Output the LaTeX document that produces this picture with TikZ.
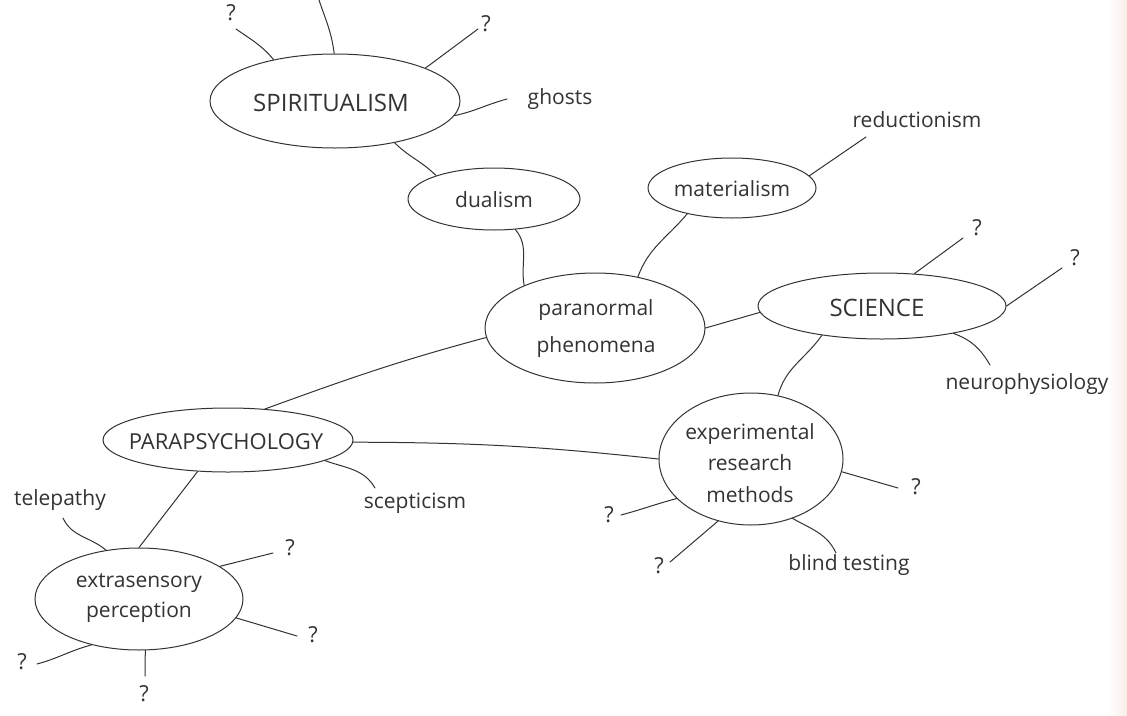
\documentclass[tikz,border=0pt]{standalone}
\usepackage{fontspec}
\setmainfont{Open Sans}
\usetikzlibrary{shapes.geometric}
\definecolor{ink}{HTML}{333333}
\definecolor{pagetint}{HTML}{F8EEE7}
\begin{document}
\begin{tikzpicture}[x=1pt,y=-1pt,
  blob/.style={draw=ink, ellipse, line width=1pt, inner sep=0pt},
  word/.style={text=ink, font=\fontsize{21}{31}\selectfont, inner sep=0pt, align=center},
  caps/.style={text=ink, font=\fontsize{23}{31}\selectfont, inner sep=0pt},
  qm/.style={text=ink, font=\fontsize{22}{28}\selectfont, inner sep=0pt},
  link/.style={draw=ink, line width=1pt, line cap=round}]
\useasboundingbox (0,0) rectangle (1127,715);
\clip (0,0) rectangle (1127,715);
\fill[white] (0,0) rectangle (1127,715);
\shade[left color=white, right color=pagetint] (1108,0) rectangle (1127,715);

% ---------- main ellipses ----------
\node[blob, minimum width=250pt, minimum height=94pt]  (spir) at (335,101) {};
\node[blob, minimum width=172pt, minimum height=62pt]  (dual) at (494,199) {};
\node[blob, minimum width=168pt, minimum height=60pt]  (mat)  at (732,188) {};
\node[blob, minimum width=220pt, minimum height=110pt] (para) at (595,328) {};
\node[blob, minimum width=248pt, minimum height=66pt]  (sci)  at (882,306) {};
\node[blob, minimum width=250pt, minimum height=64pt]  (psy)  at (228,440) {};
\node[blob, minimum width=208pt, minimum height=102pt] (esp)  at (139,599) {};
\node[blob, minimum width=184pt, minimum height=132pt] (erm)  at (751,459) {};

% ---------- texts inside ----------
\node[caps, font=\fontsize{24}{31}\selectfont] (spirt) at (331,103) {SPIRITUALISM};
\node[word] (dualt) at (494,200) {dualism};
\node[word] (matt)  at (732,189) {materialism};
\node[word, font=\fontsize{21}{37}\selectfont] (parat) at (596,329) {paranormal\\phenomena};
\node[caps, font=\fontsize{24}{31}\selectfont] (scit) at (877,308) {SCIENCE};
\node[caps, font=\fontsize{22}{31}\selectfont] (psyt) at (226,442) {PARAPSYCHOLOGY};
\node[word, font=\fontsize{21}{30}\selectfont] (espt) at (139,598) {extrasensory\\perception};
\node[word, font=\fontsize{21}{31.5}\selectfont] (ermt) at (750,463) {experimental\\research\\methods};

% ---------- outer labels ----------
\node[qm, anchor=base] (q0) at (231,20) {?};
\node[qm] (q1) at (486,24) {?};
\node[word] (ghosts) at (560,99) {ghosts};
\node[word] (reduc) at (917,120) {reductionism};
\node[qm] (q2) at (977,228) {?};
\node[qm] (q3) at (1075,258) {?};
\node[word] (neuro) at (1027,384) {neurophysiology};
\node[word] (telep) at (60,500) {telepathy};
\node[word] (scep) at (415,503) {scepticism};
\node[qm] (q4) at (290,548) {?};
\node[qm] (q5) at (313,635) {?};
\node[qm] (q6) at (22,662) {?};
\node[qm] (q7) at (144,694) {?};
\node[qm] (q8) at (916,487) {?};
\node[qm] (q9) at (609,515) {?};
\node[qm] (q10) at (659,566) {?};
\node[word] (blind) at (849,565) {blind testing};

% ---------- free ends ----------
\coordinate (e0) at (236,29);
\coordinate (etop) at (318,-3);
\coordinate (e1) at (478,29);
\coordinate (eg) at (507,99);
\coordinate (er) at (866,137);
\coordinate (e2) at (963,238);
\coordinate (e3) at (1062,268);
\coordinate (en) at (990,365);
\coordinate (et) at (63,518);
\coordinate (es) at (375,488);
\coordinate (e4) at (273,553);
\coordinate (e5) at (297,636);
\coordinate (e6) at (37,664);
\coordinate (e7) at (145,676);
\coordinate (e8) at (898,488);
\coordinate (e9) at (621,515);
\coordinate (e10) at (670,562);
\coordinate (eb) at (836,553);

% ---------- connectors ----------
\draw[link] (spir.146) to[out=130, in=-35] (e0);
\draw[link] (spir.91) to[out=97, in=-72] (etop);
\draw[link] (spir.20) -- (e1);
\draw[link] (spir.-7) to[out=12, in=195] (eg);
\draw[link] (spir.-35) to[out=-45, in=135] (dual.158);
\draw[link] (dual.-55) to[out=-50, in=100] (para.149.5);
\draw[link] (mat.210) to[out=-130, in=70] (para.50);
\draw[link] (mat.9.5) -- (er);
\draw[link] (para.0) -- (sci.183);
\draw[link] (sci.45) -- (e2);
\draw[link] (sci.0) -- (e3);
\draw[link] (sci.-21.5) to[out=-20, in=120] (en);
\draw[link] (sci.206.6) to[out=-125, in=75] (erm.67);
\draw[link] (para.185) to[out=195, in=20] (psy.40.6);
\draw[link] (psy.-1.4) to[bend left=3] (erm.180);
\draw[link] (psy.-12.4) to[out=-20, in=120] (es);
\draw[link] (psy.226) -- (esp.90);
\draw[link] (esp.124.8) to[out=140, in=-65] (et);
\draw[link] (esp.22) -- (e4);
\draw[link] (esp.-11.7) -- (e5);
\draw[link] (esp.224.4) to[out=195, in=15] (e6);
\draw[link] (esp.-83) -- (e7);
\draw[link] (erm.-8.7) -- (e8);
\draw[link] (erm.208.7) to[out=195, in=15] (e9);
\draw[link] (erm.242.4) -- (e10);
\draw[link] (erm.-55) to[out=-30, in=115] (eb);
\end{tikzpicture}
\end{document}
